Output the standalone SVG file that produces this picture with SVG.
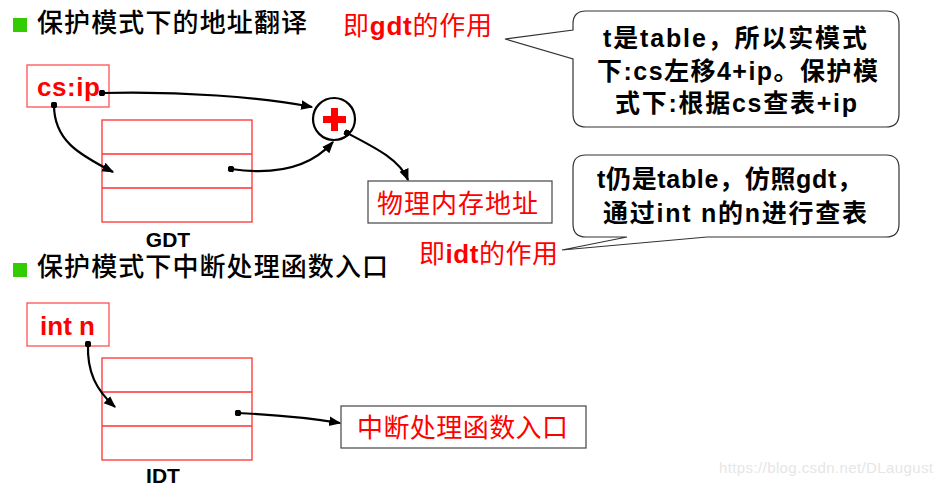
<svg xmlns="http://www.w3.org/2000/svg" width="943" height="486" viewBox="0 0 943 486">
<style>
text{font-family:"Liberation Sans","Noto Sans CJK SC",sans-serif}
.title{font-size:26px;fill:#000;font-weight:500}
.red{fill:#ff0000}
.lbl{font-size:26px}
.b{font-weight:bold}
.call{font-size:25px;font-weight:bold;fill:#000}
.rbox{fill:#fff;stroke:#ff5050;stroke-width:1.3}
.tbl{fill:#fff;stroke:#ff3030;stroke-width:1.3}
.gbox{fill:#fff;stroke:#444;stroke-width:1.2}
.bubble{fill:#fff;stroke:#333;stroke-width:1.2}
.conn path{fill:none;stroke:#000;stroke-width:2.2}
</style>
<defs>
<marker id="arr" viewBox="0 0 10 10" refX="9" refY="5" markerWidth="5.5" markerHeight="5.5" orient="auto" markerUnits="strokeWidth"><path d="M0,1 L10,5 L0,9 Z" fill="#000"/></marker>
<marker id="dot" viewBox="0 0 10 10" refX="5" refY="5" markerWidth="3" markerHeight="3" orient="auto" markerUnits="strokeWidth"><circle cx="5" cy="5" r="5" fill="#000"/></marker>
</defs>
<rect width="943" height="486" fill="#fff"/>

<g id="title1">
<rect x="13" y="18" width="14" height="14" fill="#33cc00"/>
<text class="title" x="37" y="32" textLength="270">保护模式下的地址翻译</text>
</g>
<g id="gdtNote">
<text class="lbl red" x="343" y="35" textLength="149">即<tspan class="b">gdt</tspan>的作用</text>
</g>
<g id="csip">
<rect class="rbox" x="27" y="65" width="82" height="42"/>
<text class="lbl red b" x="37" y="96" textLength="63">cs:ip</text>
</g>
<g id="gdt">
<rect class="tbl" x="102" y="120" width="150" height="102"/>
<line class="tbl" x1="102" y1="154" x2="252" y2="154"/>
<line class="tbl" x1="102" y1="188" x2="252" y2="188"/>
<text x="168" y="247" font-size="21" font-weight="bold" text-anchor="middle">GDT</text>
</g>
<g id="plus">
<circle cx="334" cy="119" r="21" fill="#fff" stroke="#000" stroke-width="2.2"/>
<rect x="323" y="116" width="23" height="7" fill="#ff0000"/>
<rect x="331" y="108" width="7" height="23" fill="#ff0000"/>
</g>
<g id="phys">
<rect class="gbox" x="368" y="181" width="184" height="42"/>
<text class="lbl red" x="377" y="213" textLength="161">物理内存地址</text>
</g>
<g id="bubble1">
<path class="bubble" d="M586,11 H886 Q899,11 899,24 V114 Q899,127 886,127 H586 Q573,127 573,114 V59 L505,39 L573,30 V24 Q573,11 586,11 Z"/>
<text class="call" x="603" y="47" textLength="264">t是table，所以实模式</text>
<text class="call" x="597" y="80" textLength="281">下:cs左移4+ip。保护模</text>
<text class="call" x="615" y="112" textLength="242">式下:根据cs查表+ip</text>
</g>
<g id="bubble2">
<path class="bubble" d="M586,155 H886 Q899,155 899,168 V224 Q899,237 886,237 H707 L562,250 L627,237 H586 Q573,237 573,224 V168 Q573,155 586,155 Z"/>
<text class="call" x="597" y="188" textLength="265">t仍是table，仿照gdt，</text>
<text class="call" x="603" y="222" textLength="264">通过int n的n进行查表</text>
</g>
<g id="idtNote">
<text class="lbl red" x="419" y="263" textLength="139">即<tspan class="b">idt</tspan>的作用</text>
</g>

<g id="title2">
<rect x="13" y="263" width="14" height="14" fill="#33cc00"/>
<text class="title" x="37" y="276" textLength="351">保护模式下中断处理函数入口</text>
</g>
<g id="intn">
<rect class="rbox" x="27" y="303" width="82" height="43"/>
<text class="lbl red b" x="40" y="335" textLength="55">int n</text>
</g>
<g id="idt">
<rect class="tbl" x="102" y="358" width="150" height="102"/>
<line class="tbl" x1="102" y1="392" x2="252" y2="392"/>
<line class="tbl" x1="102" y1="426" x2="252" y2="426"/>
<text x="163" y="483" font-size="21" font-weight="bold" text-anchor="middle">IDT</text>
</g>
<g id="entry">
<rect class="gbox" x="341" y="406" width="245" height="42"/>
<text class="lbl red" x="357" y="437" textLength="211">中断处理函数入口</text>
</g>

<g class="conn" id="connectors">
<path d="M102,93 C180,91 260,97 312,107" marker-start="url(#dot)" marker-end="url(#arr)"/>
<path d="M54,105 C54,140 78,154 113,172" marker-start="url(#dot)" marker-end="url(#arr)"/>
<path d="M231,169 C272,175 308,170 333,142" marker-start="url(#dot)" marker-end="url(#arr)"/>
<path d="M347,133 C376,148 400,160 408,180" marker-start="url(#dot)" marker-end="url(#arr)"/>
<path d="M88,344 C87,372 96,390 115,407" marker-start="url(#dot)" marker-end="url(#arr)"/>
<path d="M238,413 C280,415 310,418 340,423" marker-start="url(#dot)" marker-end="url(#arr)"/>
</g>

<text x="719" y="473" font-size="15" fill="#e6e6e6" textLength="214">https://blog.csdn.net/DLaugust</text>
</svg>
